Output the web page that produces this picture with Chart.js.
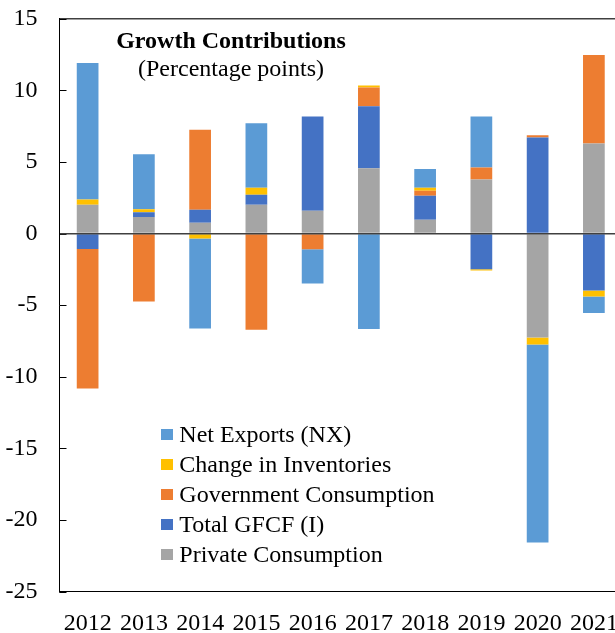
<!DOCTYPE html>
<html><head><meta charset="utf-8">
<script src="https://cdn.jsdelivr.net/npm/chart.js@4/dist/chart.umd.min.js"></script>
<style>
html,body{margin:0;padding:0;overflow:hidden;background:#fff;width:615px;height:633px;}
#wrap{position:relative;width:630px;height:633px;}
canvas{display:block}
.ttl{position:absolute;left:0;width:462px;top:27px;text-align:center;font-family:"Liberation Serif";font-size:24px;line-height:27.7px;color:#000}
#legend{position:absolute;left:161px;top:419px;font-family:"Liberation Serif";font-size:24px;line-height:30px;color:#000}
.row{position:relative;height:30px;padding-left:18.3px;white-space:nowrap}
.sw{position:absolute;left:0;top:10px;width:11.5px;height:11px}
</style></head>
<body>
<div id="wrap">
<canvas id="c" width="630" height="633"></canvas>
<div class="ttl"><b>Growth Contributions</b><br>(Percentage points)</div>
<div id="legend"></div>
</div>
<script>
const years = ['2012','2013','2014','2015','2016','2017','2018','2019','2020','2021'];
const privateConsumption = [2.01, 1.15, 0.76, 2.01, 1.59, 4.56, 0.97, 3.78, -7.26, 6.28];
const totalGFCF          = [-1.07, 0.33, 0.90, 0.70, 6.59, 4.33, 1.67, -2.49, 6.70, -3.97];
const govConsumption     = [-9.74, -4.74, 5.59, -6.71, -1.09, 1.30, 0.35, 0.83, 0.16, 6.19];
const inventories        = [0.37, 0.21, -0.35, 0.49, 0, 0.14, 0.21, -0.08, -0.49, -0.42];
const netExports         = [9.53, 3.85, -6.28, 4.50, -2.39, -6.66, 1.30, 3.57, -13.82, -1.16];
const yTicks = [-25, -20, -15, -10, -5, 0, 5, 10, 15];

const seriesNames  = ['Private Consumption','Total GFCF (I)','Government Consumption','Change in Inventories','Net Exports (NX)'];
const seriesData   = [privateConsumption, totalGFCF, govConsumption, inventories, netExports];
const seriesColors = ['#A5A5A5','#4472C4','#ED7D31','#FFC000','#5B9BD5'];

const FONT = 'Liberation Serif';

const frame = {
  id: 'frame',
  afterDatasetsDraw(chart) {
    const {ctx, chartArea: a, scales: {y}} = chart;
    ctx.save();
    ctx.strokeStyle = '#404040';
    ctx.lineWidth = 1.5;
    ctx.beginPath();
    ctx.moveTo(a.left, a.top); ctx.lineTo(a.right, a.top);
    ctx.stroke();
    ctx.strokeStyle = '#000';
    ctx.lineWidth = 1;
    ctx.beginPath();
    y.ticks.forEach(t => {
      const py = Math.round(y.getPixelForValue(t.value)) + 0.5;
      ctx.moveTo(a.left, py); ctx.lineTo(a.left + 7, py);
    });
    ctx.stroke();
    ctx.restore();
  }
};

new Chart(document.getElementById('c'), {
  type: 'bar',
  data: {
    labels: years,
    datasets: seriesNames.map((n, i) => ({
      label: n, data: seriesData[i], backgroundColor: seriesColors[i], borderWidth: 0
    }))
  },
  options: {
    responsive: false,
    animation: false,
    layout: {padding: {top: 18.7, right: 8, left: 0, bottom: 0}},
    plugins: {legend: {display: false}, tooltip: {enabled: false}},
    datasets: {bar: {categoryPercentage: 1, barPercentage: 0.386}},
    scales: {
      x: {
        stacked: true,
        grid: {display: false, drawTicks: false},
        border: {display: true, color: '#000', width: 1},
        ticks: {font: {family: FONT, size: 24}, color: '#000', padding: 18, maxRotation: 0, autoSkip: false},
        afterFit(s) { s.height = 41.3; s.paddingLeft = 0; s.paddingRight = 0; }
      },
      y: {
        stacked: true,
        min: -25, max: 15,
        afterBuildTicks(s) { s.ticks = yTicks.map(v => ({value: v})); },
        ticks: {font: {family: FONT, size: 24}, color: '#000', padding: 22},
        grid: {z: 1, drawTicks: false, lineWidth: 1.5,
               color: c => (c.tick && c.tick.value === 0) ? '#404040' : 'rgba(0,0,0,0)'},
        border: {z: 1, color: '#000', width: 1},
        afterFit(s) { s.width = 59.5; s.paddingTop = 0; s.paddingBottom = 0; }
      }
    }
  },
  plugins: [frame]
});

const lg = document.getElementById('legend');
[4,3,2,1,0].forEach(i => {
  const r = document.createElement('div');
  r.className = 'row';
  const sw = document.createElement('span');
  sw.className = 'sw';
  sw.style.background = seriesColors[i];
  r.appendChild(sw);
  r.appendChild(document.createTextNode(seriesNames[i]));
  lg.appendChild(r);
});
</script>
</body></html>
